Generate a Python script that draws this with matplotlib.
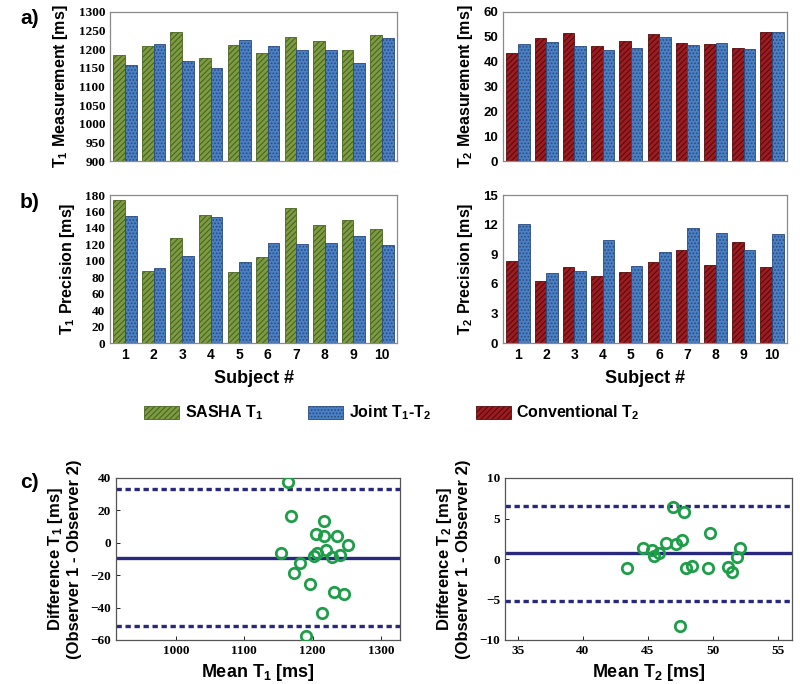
import numpy as np
import matplotlib
matplotlib.use("Agg")
import matplotlib.pyplot as plt
from matplotlib.patches import Patch

plt.rcParams['font.family'] = ['Liberation Sans', 'DejaVu Sans']
plt.rcParams['font.weight'] = 'bold'
plt.rcParams['mathtext.fontset'] = 'custom'
plt.rcParams['mathtext.rm'] = 'Liberation Sans:bold'
plt.rcParams['mathtext.it'] = 'Liberation Sans:bold'
plt.rcParams['mathtext.bf'] = 'Liberation Sans:bold'
plt.rcParams['hatch.linewidth'] = 0.8

# ---- data ----
subjects = np.arange(1, 11)

t1_sasha = [1185, 1210, 1245, 1176, 1212, 1190, 1233, 1222, 1197, 1239]
t1_joint = [1158, 1213, 1168, 1149, 1226, 1208, 1199, 1199, 1163, 1230]

t2_conv = [43.3, 49.6, 51.4, 46.4, 48.2, 51.0, 47.7, 47.1, 45.7, 51.8]
t2_joint = [47.3, 48.0, 46.5, 44.5, 45.4, 49.8, 46.9, 47.6, 45.3, 52.0]

t1prec_sasha = [174, 87, 128, 156, 86, 105, 164, 143, 149, 139]
t1prec_joint = [155, 91, 106, 153, 98, 122, 120, 122, 130, 119]

t2prec_conv = [8.3, 6.3, 7.7, 6.8, 7.2, 8.2, 9.4, 7.9, 10.2, 7.7]
t2prec_joint = [12.1, 7.1, 7.3, 10.4, 7.8, 9.2, 11.7, 11.1, 9.4, 11.0]

# Bland-Altman, inter-observer
ba_t1_mean = [1164, 1169, 1217, 1205, 1216, 1236, 1252, 1153, 1206, 1220,
              1202, 1228, 1240, 1181, 1173, 1196, 1232, 1246, 1214, 1191]
ba_t1_diff = [37.4, 16.5, 13.4, 5.6, 4.5, 4.5, -1.4, -6.6, -6.2, -4.3,
              -8.4, -8.6, -7.6, -12.6, -18.5, -25.5, -30.5, -31.5, -43.6, -57.4]
ba_t1_bias, ba_t1_lo, ba_t1_hi = -9.3, -51.2, 33.3

ba_t2_mean = [43.4, 44.6, 45.3, 45.5, 45.85, 46.4, 46.9, 47.2, 47.6, 47.8,
              47.9, 48.4, 47.45, 49.8, 49.6, 51.2, 51.5, 51.9, 52.1]
ba_t2_diff = [-1.15, 1.4, 1.1, 0.4, 0.8, 2.0, 6.4, 1.9, 2.3, 5.8,
              -1.1, -0.9, -8.3, 3.2, -1.1, -1.0, -1.6, 0.3, 1.4]
ba_t2_bias, ba_t2_lo, ba_t2_hi = 0.7, -5.2, 6.6

# ---- styles ----
green = dict(color='#7d9c42', edgecolor='#4a6420', hatch='//////', linewidth=0.6)
blue = dict(color='#4a80c4', edgecolor='#2a4a7e', hatch='.....', linewidth=0.6)
red = dict(color='#9e1b20', edgecolor='#560c0f', hatch='//////', linewidth=0.6)

serif = ['Liberation Serif', 'DejaVu Serif']
W = 800; H = 684


def box(l, t, r, b):
    return [l / W, 1 - b / H, (r - l) / W, (b - t) / H]


fig = plt.figure(figsize=(8, 6.84), dpi=100)

ax_a1 = fig.add_axes(box(110, 12, 397, 161))
ax_a2 = fig.add_axes(box(503, 12, 787, 161))
ax_b1 = fig.add_axes(box(110, 195, 397, 343))
ax_b2 = fig.add_axes(box(503, 195, 787, 343))
ax_c1 = fig.add_axes(box(116, 478, 400, 640))
ax_c2 = fig.add_axes(box(505, 478, 792, 640))

bw = 0.41


def bars(ax, left, right, sl, sr, ylim, yticks, tickfont, xlabels):
    ax.bar(subjects - bw / 2, left, bw, **sl)
    ax.bar(subjects + bw / 2, right, bw, **sr)
    ax.set_xlim(0.47, 10.53)
    ax.set_ylim(*ylim)
    ax.set_yticks(yticks)
    for s in ax.spines.values():
        s.set_color('#8a8a8a')
        s.set_linewidth(0.9)
    ax.tick_params(axis='both', length=0)
    for lab in ax.get_yticklabels():
        lab.set_fontfamily(tickfont)
        lab.set_fontweight('bold')
        lab.set_fontsize(9.5)
    if xlabels:
        ax.set_xticks(subjects)
        ax.set_xticklabels([str(s) for s in subjects], fontsize=10, fontweight='bold')
        ax.set_xlabel('Subject #', fontsize=13, fontweight='bold', labelpad=6)
    else:
        ax.set_xticks([])


bars(ax_a1, t1_sasha, t1_joint, green, blue, (900, 1300), np.arange(900, 1301, 50), serif, False)
bars(ax_a2, t2_conv, t2_joint, red, blue, (0, 60), np.arange(0, 61, 10), ['Liberation Sans'], False)
bars(ax_b1, t1prec_sasha, t1prec_joint, green, blue, (0, 180), np.arange(0, 181, 20), serif, True)
bars(ax_b2, t2prec_conv, t2prec_joint, red, blue, (0, 15), np.arange(0, 16, 3), ['Liberation Sans'], True)

ax_a1.set_ylabel('T$_1$ Measurement [ms]', fontsize=11.5, fontweight='bold', labelpad=6)
ax_a2.set_ylabel('T$_2$ Measurement [ms]', fontsize=11.5, fontweight='bold', labelpad=6)
ax_b1.set_ylabel('T$_1$ Precision [ms]', fontsize=11.5, fontweight='bold', labelpad=6)
ax_b2.set_ylabel('T$_2$ Precision [ms]', fontsize=11.5, fontweight='bold', labelpad=6)


def bland(ax, m, d, bias, lo, hi, xlim, xticks, ylim, yticks, name):
    ax.plot(m, d, 'o', mfc='none', mec='#1f9e4a', mew=2.0, ms=7.5, zorder=3)
    ax.axhline(bias, color='#28297e', lw=2.4, zorder=2)
    ax.axhline(lo, color='#28297e', lw=2.4, ls=(0, (1.6, 1.1)), zorder=2)
    ax.axhline(hi, color='#28297e', lw=2.4, ls=(0, (1.6, 1.1)), zorder=2)
    ax.set_xlim(*xlim)
    ax.set_ylim(*ylim)
    ax.set_xticks(xticks)
    ax.set_yticks(yticks)
    ax.tick_params(direction='in', length=3, width=0.6, top=False, right=False)
    for s in ax.spines.values():
        s.set_color('#555555')
        s.set_linewidth(0.9)
    for lab in ax.get_xticklabels() + ax.get_yticklabels():
        lab.set_fontfamily(serif)
        lab.set_fontweight('bold')
        lab.set_fontsize(9.5)
    ax.set_xlabel('Mean %s [ms]' % name, fontsize=13, fontweight='bold', labelpad=4)
    ax.set_ylabel('Difference %s [ms]\n(Observer 1 - Observer 2)' % name,
                  fontsize=12, fontweight='bold', labelpad=6)


bland(ax_c1, ba_t1_mean, ba_t1_diff, ba_t1_bias, ba_t1_lo, ba_t1_hi,
      (912, 1328), [1000, 1100, 1200, 1300], (-60, 40), np.arange(-60, 41, 20), 'T$_1$')
bland(ax_c2, ba_t2_mean, ba_t2_diff, ba_t2_bias, ba_t2_lo, ba_t2_hi,
      (34, 56.1), [35, 40, 45, 50, 55], (-10, 10), [-10, -5, 0, 5, 10], 'T$_2$')

# legend
handles = [Patch(facecolor=green['color'], edgecolor=green['edgecolor'], hatch=green['hatch'], lw=0.6),
           Patch(facecolor=blue['color'], edgecolor=blue['edgecolor'], hatch=blue['hatch'], lw=0.6),
           Patch(facecolor=red['color'], edgecolor=red['edgecolor'], hatch=red['hatch'], lw=0.6)]
labels = ['SASHA T$_1$', 'Joint T$_1$-T$_2$', 'Conventional T$_2$']
fig.legend(handles, labels, loc='center', bbox_to_anchor=(0.49, 1 - 413 / H), ncol=3,
           frameon=False, fontsize=11.5, handlelength=2.2, handleheight=0.9,
           handletextpad=0.35, columnspacing=2.8)

# panel letters
fig.text(20 / W, 1 - 18 / H, 'a)', fontsize=15, fontweight='bold', va='center')
fig.text(20 / W, 1 - 203 / H, 'b)', fontsize=15, fontweight='bold', va='center')
fig.text(20 / W, 1 - 482 / H, 'c)', fontsize=15, fontweight='bold', va='center')

plt.savefig('out.png', dpi=100)
